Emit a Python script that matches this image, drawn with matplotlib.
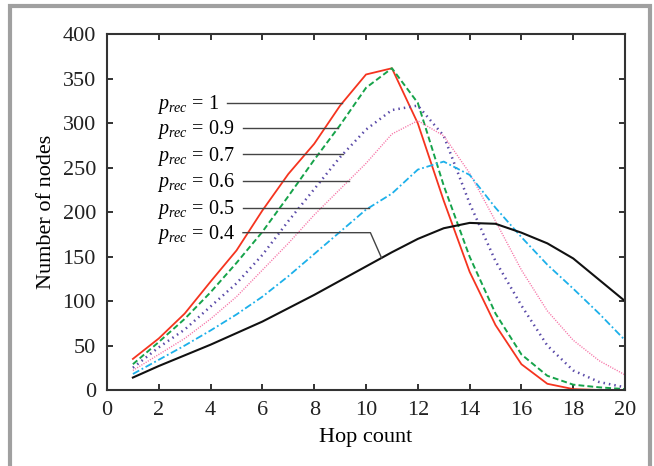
import numpy as np
import matplotlib
matplotlib.use('Agg')
import matplotlib.pyplot as plt
from matplotlib.patches import Rectangle

plt.rcParams['font.family'] = ['Liberation Serif', 'DejaVu Serif']
plt.rcParams['mathtext.fontset'] = 'custom'
plt.rcParams['mathtext.rm'] = 'Liberation Serif'
plt.rcParams['mathtext.it'] = 'Liberation Serif:italic'

hops = np.arange(1, 21)

# number of nodes per hop count, one series per p_rec
p10 = [35, 58, 86, 122, 157, 202, 243, 277, 320, 355, 362, 300, 213, 133, 73, 29, 7, 1, 0, 0]
p09 = [29, 54, 80, 110, 143, 178, 218, 259, 298, 340, 362, 323, 230, 150, 86, 40, 16, 6, 3, 1]
p07 = [25, 48, 68, 94, 120, 152, 190, 226, 262, 293, 315, 320, 286, 210, 145, 95, 50, 22, 9, 3]
p06 = [22, 40, 58, 80, 105, 135, 165, 197, 226, 255, 288, 303, 286, 244, 190, 135, 89, 56, 33, 17]
p05 = [18, 34, 50, 67, 85, 105, 128, 153, 178, 203, 221, 248, 257, 242, 205, 172, 141, 114, 86, 56]
p04 = [14, 27, 39, 51, 64, 77, 92, 107, 123, 139, 155, 170, 182, 188, 187, 177, 165, 148, 124, 100]

labels = ['1', '0.9', '0.7', '0.6', '0.5', '0.4']
label_y = [323, 295, 265, 235.5, 205, 177]

fig = plt.figure(figsize=(6.54, 4.66), dpi=100)
ax = fig.add_axes([0.1636, 0.1631, 0.7921, 0.7629])

series = [p10, p09, p07, p06, p05, p04]
styles = [
    dict(color='#f5341f', lw=1.3, ls='-'),
    dict(color='#16a34a', lw=1.4, ls=(0, (3, 1.6))),
    dict(color='#5a4aa8', lw=1.8, ls=(0, (0.6, 1.6))),
    dict(color='#f772a6', lw=1.0, ls=(0, (0.8, 1.0))),
    dict(color='#1cb0ea', lw=1.3, ls=(0, (4, 1.5, 1, 1.5))),
    dict(color='#111111', lw=1.5, ls='-'),
]
for s, st in zip(series, styles):
    ax.plot(hops, s, **st)

# labels with leader lines to the rising side of each curve
for i, (lab, ly, s) in enumerate(zip(labels, label_y, series)):
    x_end = np.interp(ly, s[:11], hops[:11])
    x_start = 4.65 if i == 0 else 5.25
    if i == 5:
        x_end = 10.17
        ax.plot([x_start, x_end, 10.6], [ly, ly, np.interp(10.6, hops, s)],
                color='#444444', lw=1.0)
    else:
        ax.plot([x_start, x_end], [ly, ly], color='#444444', lw=1.0)
    ax.text(1.93, ly - 7, r'$p_{rec}$ = ' + lab, fontsize=14.5,
            ha='left', va='baseline')

ax.set_xlim(0, 20)
ax.set_ylim(0, 400)
ax.set_xticks(range(0, 21, 2))
ax.set_yticks(range(0, 401, 50))
ax.tick_params(direction='in', top=True, right=True, length=4, width=1.3,
               labelsize=16, pad=8, colors='#222222')
for sp in ax.spines.values():
    sp.set_linewidth(1.5)
    sp.set_color('#333333')
ax.set_xlabel('Hop count', fontsize=16, labelpad=6)
ax.set_ylabel('Number of nodes', fontsize=16, labelpad=5)

fig.patches.append(Rectangle((0.0153, -0.05), 0.9786, 1.037, transform=fig.transFigure,
                             fill=False, edgecolor='#a0a0a0', lw=3, clip_on=False))

fig.savefig('out.png', dpi=100)
